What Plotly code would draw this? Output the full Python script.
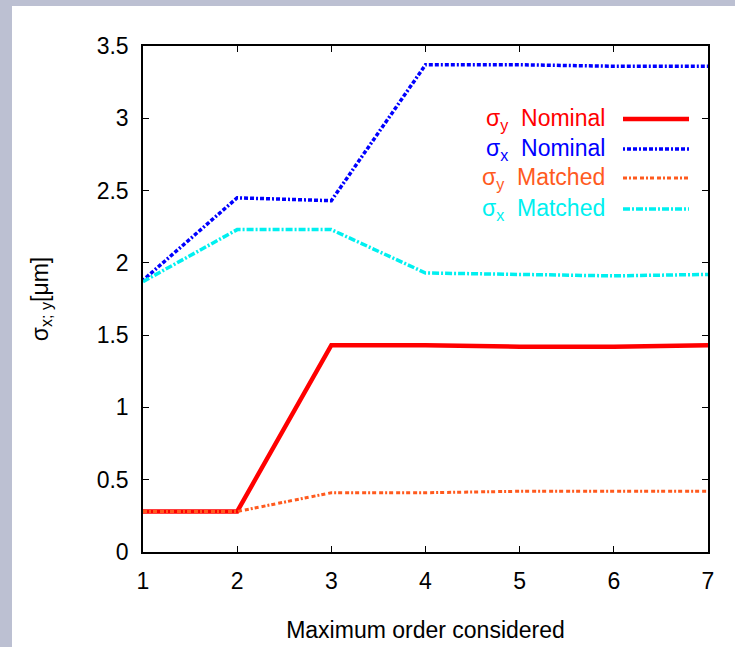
import plotly.graph_objects as go

# Maximum expansion order on the x axis
orders = [1, 2, 3, 4, 5, 6, 7]

# Beam sizes in micrometres
sigma_y_nominal = [0.28, 0.28, 1.43, 1.43, 1.42, 1.42, 1.43]
sigma_x_nominal = [1.88, 2.45, 2.43, 3.37, 3.37, 3.36, 3.36]
sigma_y_matched = [0.28, 0.28, 0.41, 0.41, 0.42, 0.42, 0.42]
sigma_x_matched = [1.87, 2.23, 2.23, 1.93, 1.92, 1.91, 1.92]

x_ticks = [1, 2, 3, 4, 5, 6, 7]
y_ticks = [0, 0.5, 1, 1.5, 2, 2.5, 3, 3.5]
y_tick_text = ["0", "0.5", "1", "1.5", "2", "2.5", "3", "3.5"]

series = [
    ("σ<sub>y</sub>  Nominal", sigma_y_nominal, "#ff0000", 4.5, "solid"),
    ("σ<sub>x</sub>  Nominal", sigma_x_nominal, "#0000ff", 3.5, "2px,2px,4px,2px,4px,2px"),
    ("σ<sub>y</sub>  Matched", sigma_y_matched, "#ff5a1e", 3, "4px,2px,2px,2px,4px,3px"),
    ("σ<sub>x</sub>  Matched", sigma_x_matched, "#00f0f0", 3.5, "7px,2px,2px,2px"),
]

W, H = 735, 647
L, R, T, B = 143, 27, 46, 95
pw, ph = W - L - R, H - T - B


def px(x):
    return (x - L) / pw


def py(y):
    return (H - B - y) / ph


fig = go.Figure()
for name, vals, color, width, dash in series:
    fig.add_trace(go.Scatter(
        x=orders, y=vals, mode="lines", name=name,
        line=dict(color=color, width=width, dash=dash),
        showlegend=False,
    ))

shapes = [
    # white page over the tinted backdrop
    dict(type="rect", xref="paper", yref="paper", layer="below",
         x0=px(12), x1=px(W + 5), y0=py(H + 5), y1=py(6),
         fillcolor="white", line=dict(width=0)),
]
annotations = []

FONT = "Liberation Sans, Arial"

# key in the upper right: text right-aligned, then a line sample
rows_y = [119, 149, 178, 209]
for (name, vals, color, width, dash), ry in zip(series, rows_y):
    annotations.append(dict(
        xref="paper", yref="paper", x=px(607), y=py(ry),
        xanchor="right", yanchor="middle", showarrow=False,
        text=name, font=dict(family=FONT, size=23, color=color),
    ))
    shapes.append(dict(
        type="line", xref="paper", yref="paper",
        x0=px(623), x1=px(689), y0=py(ry), y1=py(ry),
        line=dict(color=color, width=width, dash=dash),
    ))

axis_font = dict(family=FONT, size=23, color="black")

fig.update_layout(
    width=W, height=H,
    margin=dict(l=L, r=R, t=T, b=B),
    paper_bgcolor="#bcc0d2",
    plot_bgcolor="white",
    shapes=shapes,
    annotations=annotations,
    xaxis=dict(
        range=[1, 7], tickvals=x_ticks, ticks="inside", ticklen=6, tickwidth=1.2,
        tickcolor="black", showline=True, linecolor="black", linewidth=1.5,
        mirror="ticks", showgrid=False, zeroline=False, tickfont=axis_font,
        ticklabelstandoff=8, automargin=False,
        title=dict(text="Maximum order considered", font=axis_font, standoff=29),
    ),
    yaxis=dict(
        range=[0, 3.5], tickvals=y_ticks, ticktext=y_tick_text, ticks="inside",
        ticklen=6, tickwidth=1.2, tickcolor="black", showline=True,
        linecolor="black", linewidth=1.5, mirror="ticks", showgrid=False,
        zeroline=False, tickfont=axis_font, ticklabelstandoff=8, automargin=False,
        title=dict(text="σ<sub>x; y</sub>[μm]", font=axis_font, standoff=42),
    ),
)

fig.write_html("out.html")
